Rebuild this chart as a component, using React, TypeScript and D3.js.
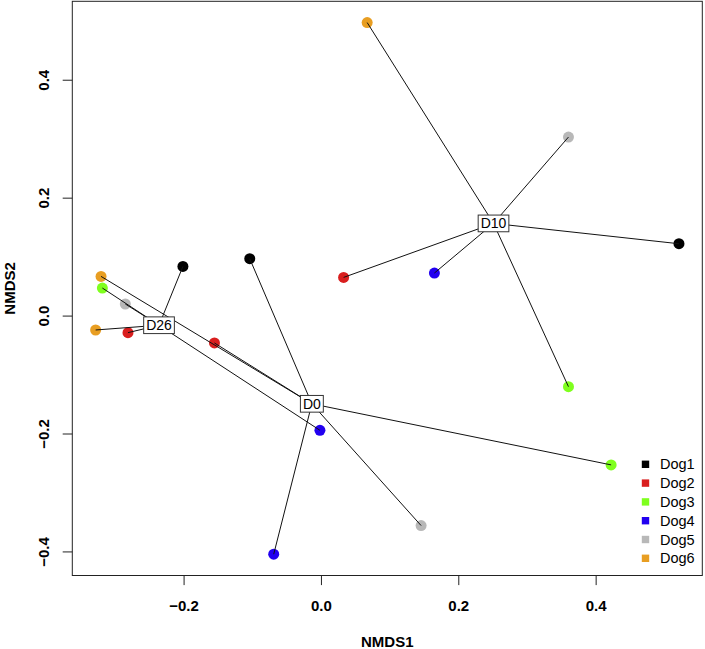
import React, { useEffect, useRef } from "react";
import * as d3 from "d3";

// Legend / group categories
const dogs = ["Dog1", "Dog2", "Dog3", "Dog4", "Dog5", "Dog6"];
const dogColors = ["#000000", "#D91E1E", "#7FFF1E", "#2200F0", "#B8B8B8", "#E89E22"];
const days = ["D0", "D10", "D26"];

// Samples (NMDS site scores)
const sampleDog = [
  "Dog1", "Dog1", "Dog1",
  "Dog2", "Dog2", "Dog2",
  "Dog3", "Dog3", "Dog3",
  "Dog4", "Dog4", "Dog4",
  "Dog5", "Dog5", "Dog5",
  "Dog6", "Dog6", "Dog6",
];
const sampleDay = [
  "D0", "D10", "D26",
  "D0", "D10", "D26",
  "D0", "D10", "D26",
  "D0", "D10", "D26",
  "D0", "D10", "D26",
  "D0", "D10", "D26",
];
const nmds1 = [
  -0.1044, 0.5206, -0.2017,
  -0.1558, 0.0323, -0.2817,
  0.4218, 0.3597, -0.319,
  -0.0695, 0.1645, -0.0022,
  0.1451, 0.3597, -0.2856,
  -0.3209, 0.0666, -0.3288,
];
const nmds2 = [
  0.0973, 0.1227, 0.0842,
  -0.0456, 0.0656, -0.0281,
  -0.2524, -0.1197, 0.0476,
  -0.4039, 0.073, -0.1937,
  -0.3553, 0.3036, 0.0205,
  0.0673, 0.4978, -0.0236,
];

const xTicks = [-0.2, 0.0, 0.2, 0.4];
const yTicks = [-0.4, -0.2, 0.0, 0.2, 0.4];

const W = 705;
const H = 649;
const FONT = "'Liberation Sans', Arial, sans-serif";

export default function App() {
  const ref = useRef<SVGSVGElement | null>(null);

  useEffect(() => {
    const svg = d3.select(ref.current);
    svg.selectAll("*").remove();

    const left = 72.3, right = 702.3, top = 1.3, bottom = 575.5;

    const [x0, x1] = d3.extent(nmds1) as [number, number];
    const [y0, y1] = d3.extent(nmds2) as [number, number];
    const px = (x1 - x0) * 0.04;
    const py = (y1 - y0) * 0.04;

    const x = d3.scaleLinear().domain([x0 - px, x1 + px]).range([left, right]);
    const y = d3.scaleLinear().domain([y0 - py, y1 + py]).range([bottom, top]);

    const color = d3.scaleOrdinal<string, string>().domain(dogs).range(dogColors);

    const samples = nmds1.map((v, i) => ({
      dog: sampleDog[i],
      day: sampleDay[i],
      x: v,
      y: nmds2[i],
    }));

    const centroids = days.map((d) => {
      const g = samples.filter((s) => s.day === d);
      return { day: d, x: d3.mean(g, (s) => s.x) as number, y: d3.mean(g, (s) => s.y) as number };
    });

    // box
    svg.append("rect")
      .attr("x", left).attr("y", top)
      .attr("width", right - left).attr("height", bottom - top)
      .attr("fill", "none").attr("stroke", "#222").attr("stroke-width", 1);

    // x axis
    const xa = svg.append("g");
    xTicks.forEach((t) => {
      xa.append("line")
        .attr("x1", x(t)).attr("x2", x(t))
        .attr("y1", bottom).attr("y2", bottom + 9.6)
        .attr("stroke", "#222");
      xa.append("text")
        .attr("x", x(t)).attr("y", 605)
        .attr("text-anchor", "middle").attr("dominant-baseline", "central")
        .attr("font-family", FONT).attr("font-weight", "bold").attr("font-size", 15)
        .text(d3.format(".1f")(t));
    });

    // y axis
    const ya = svg.append("g");
    yTicks.forEach((t) => {
      ya.append("line")
        .attr("x1", left - 9.6).attr("x2", left)
        .attr("y1", y(t)).attr("y2", y(t))
        .attr("stroke", "#222");
      ya.append("text")
        .attr("transform", `translate(43.5,${y(t)}) rotate(-90)`)
        .attr("text-anchor", "middle").attr("dominant-baseline", "central")
        .attr("font-family", FONT).attr("font-weight", "bold").attr("font-size", 15)
        .text(d3.format(".1f")(t));
    });

    svg.append("text")
      .attr("x", (left + right) / 2).attr("y", 641.5)
      .attr("text-anchor", "middle").attr("dominant-baseline", "central")
      .attr("font-family", FONT).attr("font-weight", "bold").attr("font-size", 15)
      .text("NMDS1");
    svg.append("text")
      .attr("transform", `translate(9,${(top + bottom) / 2}) rotate(-90)`)
      .attr("text-anchor", "middle").attr("dominant-baseline", "central")
      .attr("font-family", FONT).attr("font-weight", "bold").attr("font-size", 15)
      .text("NMDS2");

    // points
    svg.append("g").selectAll("circle").data(samples).join("circle")
      .attr("cx", (d) => x(d.x)).attr("cy", (d) => y(d.y))
      .attr("r", 5.5)
      .attr("fill", (d) => color(d.dog));

    // spider lines
    const cmap = new Map(centroids.map((c) => [c.day, c]));
    svg.append("g").selectAll("line").data(samples).join("line")
      .attr("x1", (d) => x(cmap.get(d.day)!.x)).attr("y1", (d) => y(cmap.get(d.day)!.y))
      .attr("x2", (d) => x(d.x)).attr("y2", (d) => y(d.y))
      .attr("stroke", "#111").attr("stroke-width", 1);

    // centroid labels
    const lab = svg.append("g");
    centroids.forEach((c) => {
      const g = lab.append("g");
      const rect = g.append("rect").attr("fill", "white").attr("stroke", "#333").attr("stroke-width", 1);
      const txt = g.append("text")
        .attr("x", x(c.x)).attr("y", y(c.y))
        .attr("text-anchor", "middle").attr("dominant-baseline", "central")
        .attr("font-family", FONT).attr("font-size", 14)
        .text(c.day);
      const w = (txt.node() as SVGTextElement).getComputedTextLength() + 5;
      const h = 16.7;
      rect.attr("x", x(c.x) - w / 2).attr("y", y(c.y) - h / 2).attr("width", w).attr("height", h);
    });

    // legend
    const lg = svg.append("g");
    dogs.forEach((d, i) => {
      const cy = 464.3 + i * 18.8;
      lg.append("rect")
        .attr("x", 645.5 - 3.7).attr("y", cy - 3.7)
        .attr("width", 7.4).attr("height", 7.4)
        .attr("fill", color(d));
      lg.append("text")
        .attr("x", 660).attr("y", cy)
        .attr("dominant-baseline", "central")
        .attr("font-family", FONT).attr("font-size", 14.5)
        .text(d);
    });
  }, []);

  return (
    <svg
      ref={ref}
      width={W}
      height={H}
      style={{ position: "absolute", left: 0, top: 0, background: "white" }}
    />
  );
}
